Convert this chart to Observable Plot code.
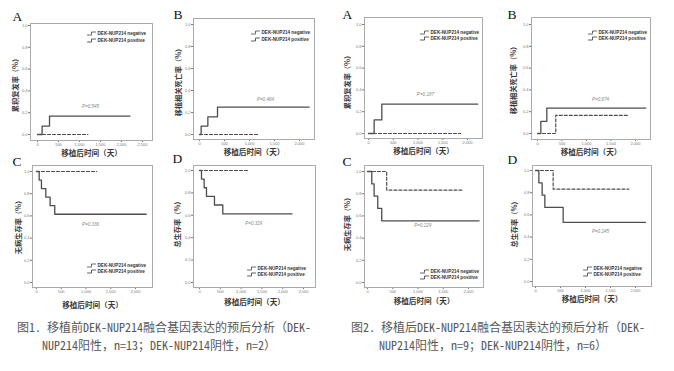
<!DOCTYPE html>
<html><head><meta charset="utf-8">
<script src="https://cdn.jsdelivr.net/npm/d3@7"></script>
<script src="https://cdn.jsdelivr.net/npm/@observablehq/plot@0.6"></script>
<style>
html,body{margin:0;padding:0;background:#fff;}
#root{position:relative;width:674px;height:371px;overflow:hidden;background:#fff;}
.panel{position:absolute;}
.cap{position:absolute;white-space:nowrap;font-family:"Noto Sans Mono CJK SC","Noto Sans CJK SC",sans-serif;font-size:12px;color:#595959;line-height:14px;}
</style></head>
<body><div id="root"></div>
<script>
// ---------- data (days after transplant, rate) ----------
const fig1A_pos_t = [0, 110, 286, 2200],            fig1A_pos_v = [0, 0.077, 0.168, 0.168];
const fig1A_neg_t = [0, 1200],                      fig1A_neg_v = [0, 0];
const fig1B_pos_t = [0, 33, 167, 360, 2193],        fig1B_pos_v = [0, 0.077, 0.160, 0.248, 0.248];
const fig1B_neg_t = [0, 1200],                      fig1B_neg_v = [0, 0];
const fig1C_pos_t = [0, 54, 100, 188, 275, 369, 2215], fig1C_pos_v = [1, 0.923, 0.846, 0.769, 0.692, 0.615, 0.615];
const fig1C_neg_t = [0, 1215],                      fig1C_neg_v = [1, 1];
const fig1D_pos_t = [0, 48, 112, 168, 360, 560, 2224], fig1D_pos_v = [1, 0.923, 0.846, 0.769, 0.692, 0.612, 0.612];
const fig1D_neg_t = [0, 1200],                      fig1D_neg_v = [1, 1];
const fig2A_pos_t = [0, 114, 269, 2209],            fig2A_pos_v = [0, 0.125, 0.270, 0.270];
const fig2A_neg_t = [0, 1865],                      fig2A_neg_v = [0, 0];
const fig2B_pos_t = [0, 68, 190, 2210],             fig2B_pos_v = [0, 0.111, 0.233, 0.233];
const fig2B_neg_t = [0, 373, 1871],                 fig2B_neg_v = [0, 0.167, 0.167];
const fig2C_pos_t = [0, 85, 131, 203, 282, 2210],   fig2C_pos_v = [1, 0.889, 0.778, 0.667, 0.556, 0.556];
const fig2C_neg_t = [0, 380, 1869],                 fig2C_neg_v = [1, 0.833, 0.833];
const fig2D_pos_t = [0, 67, 133, 187, 553, 2200],   fig2D_pos_v = [1, 0.889, 0.778, 0.667, 0.533, 0.533];
const fig2D_neg_t = [0, 353, 1867],                 fig2D_neg_v = [1, 0.833, 0.833];

const pValues = ["P=0.545", "P=0.464", "P=0.336", "P=0.329", "P=0.187", "P=0.674", "P=0.229", "P=0.245"];
const pPos_t = [1262, 1320, 1091, 1305, 1151, 1286, 1095, 1300];
const pPos_v = [0.257, 0.315, 0.52, 0.53, 0.355, 0.31, 0.513, 0.45];

const letters = ["A", "B", "C", "D", "A", "B", "C", "D"];
const yTitles = ["累积复发率（%）", "移植相关死亡率（%）", "无病生存率（%）", "总生存率（%）",
                 "累积复发率（%）", "移植相关死亡率（%）", "无病生存率（%）", "总生存率（%）"];
const xTitle = "移植后时间（天）";
const legendLabels = ["DEK-NUP214 negative", "DEK-NUP214 positive"];
const yTicks = [0, 0.2, 0.4, 0.6, 0.8, 1.0];
const xTicksLong = [0, 500, 1000, 1500, 2000, 2500];
const xTicksShort = [0, 500, 1000, 1500, 2000];
const captions = [
  ["图1. 移植前DEK-NUP214融合基因表达的预后分析（DEK-", "NUP214阳性，n=13；DEK-NUP214阴性，n=2）"],
  ["图2. 移植后DEK-NUP214融合基因表达的预后分析（DEK-", "NUP214阳性，n=9；DEK-NUP214阴性，n=6）"]
];

// ---------- layout (page pixels) ----------
const layout = [
  {frame:[30,23,152,140],  x0:37,  kx:105/2500, y1:25,  y0:134, ticks:xTicksLong,  letter:[-18,-3], xt:15, ylab:-15, yc:83,  leg:[97,33,40],  pos:fig1A_pos_t, posv:fig1A_pos_v, neg:fig1A_neg_t, negv:fig1A_neg_v},
  {frame:[193,18,314,139], x0:199, kx:100/2000, y1:24,  y0:134, ticks:xTicksShort, letter:[-20,0],  xt:15, ylab:-15, yc:80,  leg:[261,32,39], pos:fig1B_pos_t, posv:fig1B_pos_v, neg:fig1B_neg_t, negv:fig1B_neg_v},
  {frame:[32,165,152,287], x0:36,  kx:99/2000,  y1:171, y0:282, ticks:xTicksShort, letter:[-20,0],  xt:20, ylab:-14, yc:225, leg:[97,265,271], pos:fig1C_pos_t, posv:fig1C_pos_v, neg:fig1C_neg_t, negv:fig1C_neg_v},
  {frame:[193,165,315,287],x0:199, kx:104/2500, y1:170, y0:282, ticks:xTicksLong,  letter:[-21,-3], xt:17, ylab:-16, yc:222, leg:[257,268,274], pos:fig1D_pos_t, posv:fig1D_pos_v, neg:fig1D_neg_t, negv:fig1D_neg_v},
  {frame:[364,17,482,138], x0:368, kx:99/2000,  y1:24,  y0:133, ticks:xTicksShort, letter:[-22,1],  xt:15, ylab:-17, yc:80,  leg:[430,32,38], pos:fig2A_pos_t, posv:fig2A_pos_v, neg:fig2A_neg_t, negv:fig2A_neg_v},
  {frame:[531,17,650,139], x0:537, kx:98/2000,  y1:24,  y0:133, ticks:xTicksShort, letter:[-24,1],  xt:15, ylab:-18, yc:78,  leg:[598,32,38], pos:fig2B_pos_t, posv:fig2B_pos_v, neg:fig2B_neg_t, negv:fig2B_neg_v},
  {frame:[364,165,483,287],x0:367, kx:101/2000, y1:171, y0:282, ticks:xTicksShort, letter:[-22,0],  xt:16, ylab:-17, yc:222, leg:[430,271,277], pos:fig2C_pos_t, posv:fig2C_pos_v, neg:fig2C_neg_t, negv:fig2C_neg_v},
  {frame:[532,165,651,286],x0:535, kx:100/2000, y1:170, y0:281, ticks:xTicksShort, letter:[-25,-2], xt:15, ylab:-18, yc:222, leg:[593,268,274], pos:fig2D_pos_t, posv:fig2D_pos_v, neg:fig2D_neg_t, negv:fig2D_neg_v}
];
const captionPos = [[17,320,42],[351,320,379]];

const ML = 34, MT = 20, MR = 8, MB = 26;
const LINE = "#4d4d4d";
const root = document.getElementById("root");

layout.forEach((p, i) => {
  const [L, T, R, B] = p.frame;
  const fw = R - L, fh = B - T;
  const xDom = [(L - p.x0) / p.kx, (R - p.x0) / p.kx];
  const ky = p.y0 - p.y1;
  const yDom = [-(B - p.y0) / ky, 1 + (p.y1 - T) / ky];
  const inx = px => (px - p.x0) / p.kx;
  const iny = py => (p.y0 - py) / ky;
  const pos = p.pos.map((t, j) => ({t, v: p.posv[j]}));
  const neg = p.neg.map((t, j) => ({t, v: p.negv[j]}));
  const [lx, ly1, ly2] = p.leg;
  const sym = (ly) => [[lx-10, ly+1.5], [lx-6, ly+1.5], [lx-6, ly-1.5], [lx-2, ly-1.5]].map(([a, b]) => ({t: inx(a), v: iny(b)}));
  const legText = (label, ly) => Plot.text([label], {frameAnchor: "top-left", text: d => d, textAnchor: "start",
      lineAnchor: "middle", dx: lx - L, dy: ly - T, fontSize: 4.6, fontWeight: "bold", fill: "#333"});

  const chart = Plot.plot({
    width: fw + ML + MR,
    height: fh + MT + MB,
    marginLeft: ML, marginTop: MT, marginRight: MR, marginBottom: MB,
    style: {background: "transparent", overflow: "visible", fontSize: "4px", color: "#777", fontFamily: "Liberation Sans, Arial, sans-serif"},
    x: {domain: xDom, ticks: p.ticks, tickSize: 2, tickPadding: 1, label: null},
    y: {domain: yDom, ticks: yTicks, tickSize: 2, tickPadding: 1, tickFormat: d => d.toFixed(1), label: null},
    marks: [
      Plot.frame({stroke: "#aaa", strokeWidth: 1}),
      Plot.line(neg, {x: "t", y: "v", curve: "step-after", stroke: LINE, strokeWidth: 1.2, strokeDasharray: "3,2"}),
      Plot.line(pos, {x: "t", y: "v", curve: "step-after", stroke: LINE, strokeWidth: 1.3}),
      Plot.text([pValues[i]], {x: () => pPos_t[i], y: () => pPos_v[i], text: d => d, fontSize: 4.6, fontStyle: "italic", fill: "#888"}),
      Plot.line(sym(ly1), {x: "t", y: "v", stroke: "#333", strokeWidth: 0.8, strokeDasharray: "1.5,1"}),
      Plot.line(sym(ly2), {x: "t", y: "v", stroke: "#333", strokeWidth: 0.8}),
      legText(legendLabels[0], ly1),
      legText(legendLabels[1], ly2),
      Plot.text([yTitles[i]], {frameAnchor: "top-left", text: d => d, rotate: -90, textAnchor: "middle", lineAnchor: "middle",
        dx: p.ylab, dy: p.yc - T, fontSize: 7.2, fontWeight: "bold", fill: "#3a3a3a", fontFamily: "Noto Sans CJK SC"}),
      Plot.text([xTitle], {frameAnchor: "bottom", text: d => d, textAnchor: "middle", dy: p.xt, fontSize: 7.6, fontWeight: "bold", fill: "#3a3a3a", fontFamily: "Noto Sans CJK SC"}),
      Plot.text([letters[i]], {frameAnchor: "top-left", text: d => d, textAnchor: "start", lineAnchor: "bottom", dx: p.letter[0], dy: p.letter[1], fontSize: 13.5, fill: "#111", fontFamily: "Liberation Serif, serif"})
    ]
  });
  const div = document.createElement("div");
  div.className = "panel";
  div.style.left = (L - ML) + "px";
  div.style.top = (T - MT) + "px";
  div.appendChild(chart);
  root.appendChild(div);
});

captions.forEach((lines, k) => {
  const [x1, y1, x2] = captionPos[k];
  lines.forEach((s, j) => {
    const d = document.createElement("div");
    d.className = "cap";
    d.style.left = (j === 0 ? x1 : x2) + "px";
    d.style.top = (y1 + j * 18) + "px";
    d.textContent = s;
    root.appendChild(d);
  });
});
</script>
</body></html>
